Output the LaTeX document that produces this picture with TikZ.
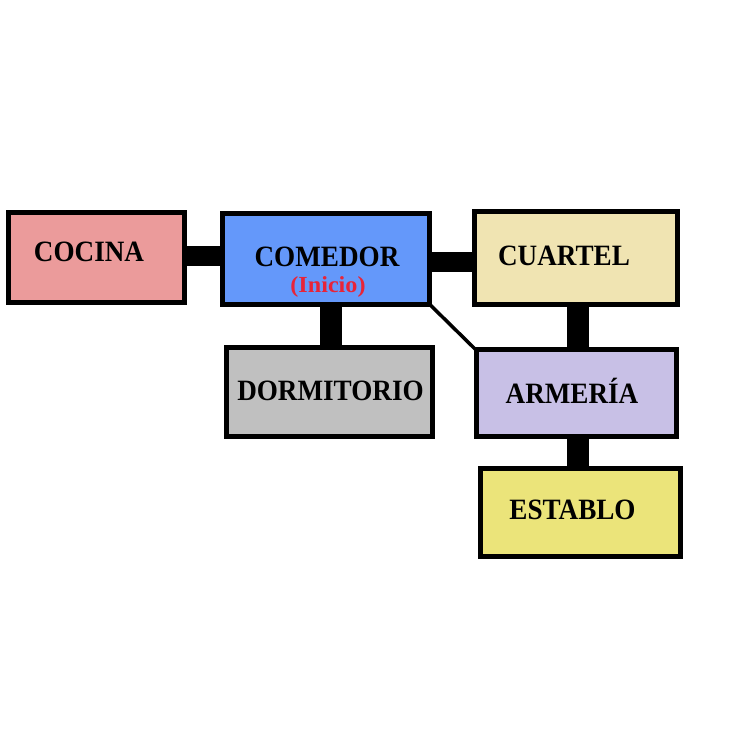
\documentclass[tikz,border=0pt]{standalone}
\usepackage{fontspec}
\setmainfont{Liberation Serif}
\newfontfamily\roomfont[FakeStretch=0.92]{Liberation Serif Bold}
\newfontfamily\subfont[FakeStretch=1.05]{Liberation Serif Bold}
\usetikzlibrary{calc}
\definecolor{cocinaC}{RGB}{235,155,155}
\definecolor{comedorC}{RGB}{100,152,250}
\definecolor{cuartelC}{RGB}{240,228,178}
\definecolor{armeriaC}{RGB}{200,192,230}
\definecolor{dormC}{RGB}{192,192,192}
\definecolor{establoC}{RGB}{235,228,122}
\definecolor{inicioC}{RGB}{232,36,56}
\tikzset{
  room/.style={draw=black, line width=5pt, inner sep=0pt, rectangle},
  roomtext/.style={inner sep=0pt, anchor=base, font=\roomfont\fontsize{29.5}{30}\selectfont},
  subtext/.style={inner sep=0pt, anchor=base, text=inicioC, font=\subfont\fontsize{23}{24}\selectfont},
  hbar/.style={line width=20pt, draw=black},
  vbar/.style={line width=22pt, draw=black},
  diag/.style={line width=3.5pt, draw=black}
}
\begin{document}
\begin{tikzpicture}[x=1pt,y=-1pt]
\useasboundingbox[fill=white] (0,0) rectangle (750,750);
% boxes (geometry only)
\path
  (96,257.3)    coordinate (pcocina)
  (326.3,259.3) coordinate (pcomedor)
  (575.5,257.5) coordinate (pcuartel)
  (576,393.3)   coordinate (parmeria)
  (329.8,392.3) coordinate (pdorm)
  (580,512)     coordinate (pestablo);
\node[room, minimum width=171pt, minimum height=85.5pt] (cocina) at (pcocina) {};
\node[room, minimum width=202.3pt, minimum height=85.7pt] (comedor) at (pcomedor) {};
\node[room, minimum width=198pt, minimum height=88pt] (cuartel) at (pcuartel) {};
\node[room, minimum width=195pt, minimum height=81.7pt] (armeria) at (parmeria) {};
\node[room, minimum width=200.7pt, minimum height=83.7pt] (dorm) at (pdorm) {};
\node[room, minimum width=195pt, minimum height=83pt] (establo) at (pestablo) {};
% connector end points
\coordinate (b1) at ($(cocina.east)+(0,-1)$);
\coordinate (b2) at ($(comedor.east)+(0,3)$);
\coordinate (b3) at ($(comedor.south)+(4.6,0)$);
\coordinate (b4) at ($(cuartel.south)+(2.5,0)$);
\coordinate (b5) at ($(armeria.south)+(2,0)$);
% connectors
\draw[hbar] (b1) -- (b1 -| comedor.west);
\draw[hbar] (b2) -- (b2 -| cuartel.west);
\draw[vbar] (b3) -- (b3 |- dorm.north);
\draw[vbar] (b4) -- (b4 |- armeria.north);
\draw[vbar] (b5) -- (b5 |- establo.north);
\draw[diag] (comedor.south east) -- (armeria.north west);
% redraw boxes on top
\foreach \n/\c in {cocina/cocinaC, comedor/comedorC, cuartel/cuartelC, armeria/armeriaC, dorm/dormC, establo/establoC}{
  \filldraw[fill=\c, draw=black, line width=5pt] (\n.north west) rectangle (\n.south east);
}
% labels
\node[roomtext] (tcocina) at (89,261) {COCINA};
\node[roomtext] (tcomedor) at (327,266.7) {COMEDOR};
\node[subtext] (tinicio) at (328,292.3) {(Inicio)};
\node[roomtext] (tcuartel) at (564,265.7) {CUARTEL};
\node[roomtext] (tarmeria) at (572,403) {ARMERÍA};
\node[roomtext] (tdorm) at (330.5,400.7) {DORMITORIO};
\node[roomtext] (testablo) at (572.5,519) {ESTABLO};
\end{tikzpicture}
\end{document}
